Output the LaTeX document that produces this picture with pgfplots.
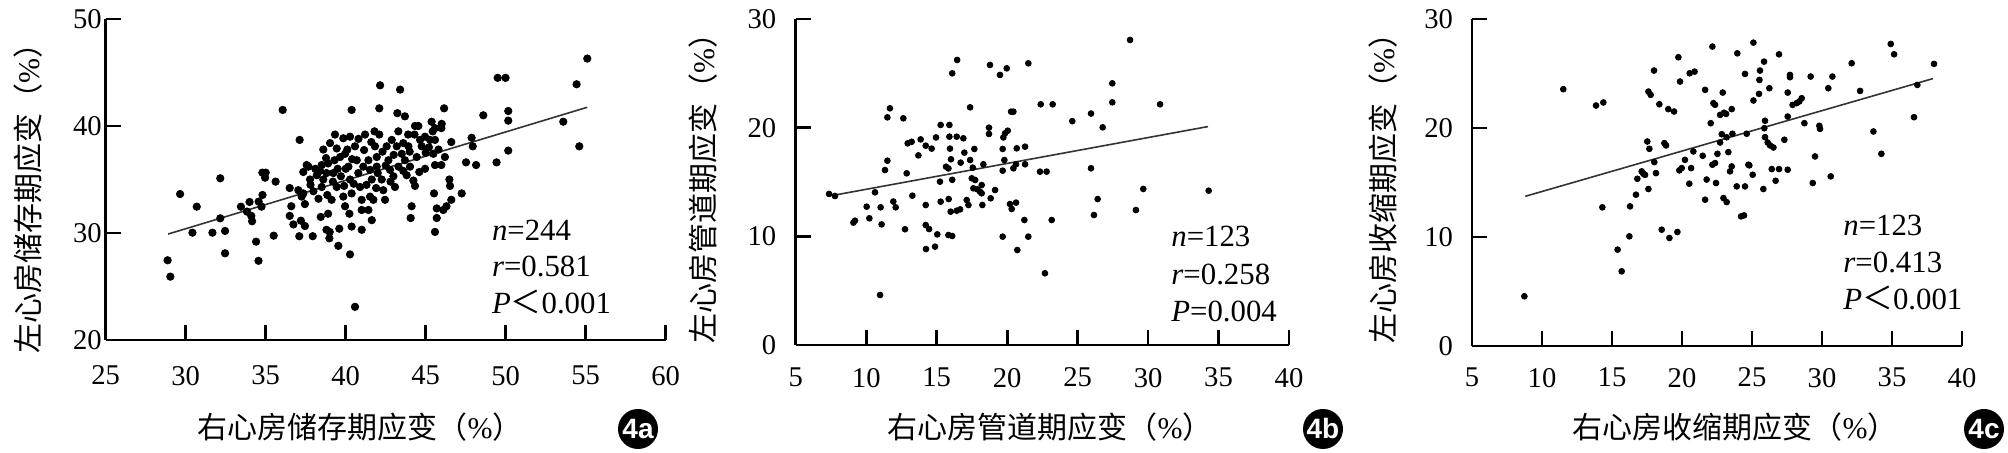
\documentclass[border=0pt]{standalone}
\usepackage{fontspec}
\setmainfont{Liberation Serif}
\newfontfamily\cjk{Noto Sans CJK SC}
\newfontfamily\lsans{Liberation Sans}
\usepackage{pgfplots}
\pgfplotsset{compat=1.18}
\pgfplotsset{myaxis/.style={
  scale only axis, axis lines*=left,
  axis line style={line width=1.35pt, black},
  every tick/.style={black, line width=1.35pt},
  tick align=inside, major tick length=7.5pt,
  ticklabel style={font=\fontsize{14.3}{14.3}\selectfont},
  /pgf/number format/assume math mode=true,
  clip=false, anchor=south west},
  dots/.style={only marks, mark=*, mark size=1.45pt, mark options={black, fill=black}},
  fit/.style={no marks, black!80, line width=0.8pt}
}
\begin{document}
\begin{tikzpicture}
\path[use as bounding box] (0,0) rectangle (1004pt,226.5pt);
% ---------- 4a ----------
\begin{axis}[myaxis, at={(52.85pt,56.5pt)}, width=280pt, height=160.5pt,
  xmin=25, xmax=60, ymin=20, ymax=50, xtick={25,30,...,60}, ytick={20,30,40,50},
  xticklabel style={yshift=-9.5pt}, yticklabel style={xshift=1.5pt}]
\addplot[dots, mark size=1.85pt] coordinates {
(28.87,27.45) (29.04,25.92) (29.65,33.64) (30.42,30.03) (30.69,32.46) (31.67,30.03)
(32.16,35.11) (32.16,31.37) (32.46,30.19) (32.46,28.10) (33.45,32.46) (33.99,32.90)
(33.83,32.00) (34.10,31.60) (34.15,31.10) (34.40,29.19) (34.55,27.40) (34.56,32.93)
(34.79,35.64) (35.00,35.64) (34.96,35.17) (34.80,33.55) (34.74,32.46) (35.50,29.75)
(35.62,34.80) (36.06,41.50) (36.50,34.20) (36.60,32.50) (36.50,31.60) (36.73,30.80)
(37.12,38.70) (37.10,29.70) (37.20,31.15) (37.45,30.65) (37.35,35.70) (37.56,36.35)
(37.25,33.40) (37.45,32.70) (37.04,34.00) (37.35,33.70) (37.94,29.70) (37.67,36.20)
(37.77,35.00) (37.98,33.90) (38.19,35.40) (38.50,36.35) (38.50,34.30) (38.60,35.00)
(38.77,37.00) (38.80,35.60) (38.85,33.55) (38.44,31.50) (38.90,31.80) (38.80,30.30)
(39.00,30.10) (38.98,29.50) (39.54,28.80) (39.60,30.40) (39.02,38.40) (39.33,39.20)
(39.44,37.90) (39.65,37.10) (39.23,35.60) (39.44,34.30) (39.12,33.10) (39.85,33.40)
(39.96,32.50) (39.85,38.85) (39.96,37.40) (40.27,39.00) (40.37,41.50) (40.17,36.20)
(40.27,35.00) (40.37,33.70) (40.23,31.80) (40.37,30.60) (40.27,28.00) (40.58,23.10)
(40.58,38.10) (40.69,36.80) (40.79,35.60) (40.90,34.30) (41.00,33.10) (41.00,32.15)
(41.00,30.30) (41.21,39.20) (41.15,37.75) (41.42,36.80) (41.52,35.90) (41.63,35.00)
(41.52,33.40) (41.42,32.15) (41.63,31.20) (41.73,33.10) (41.83,38.10) (41.94,37.10)
(41.94,36.20) (42.15,43.80) (42.10,41.65) (42.10,39.20) (42.25,35.00) (42.35,34.00)
(42.46,33.10) (42.56,38.10) (42.67,36.80) (42.77,35.90) (42.88,38.70) (42.98,35.30)
(43.08,34.30) (43.19,38.10) (43.29,39.50) (43.23,41.20) (43.40,43.40) (43.50,37.40)
(43.60,38.40) (43.70,40.90) (43.70,36.80) (43.81,35.40) (43.92,38.10) (44.02,36.20)
(44.12,32.50) (44.06,31.40) (44.23,34.90) (44.33,34.40) (44.33,40.00) (44.54,40.00)
(44.44,37.10) (44.65,38.70) (44.75,38.10) (44.96,36.00) (44.96,39.00) (45.27,38.70)
(45.37,40.40) (45.44,39.50) (45.58,39.80) (45.58,38.70) (45.48,37.40) (45.58,36.35)
(45.52,33.70) (45.69,32.30) (45.69,31.40) (45.58,30.10) (45.98,39.80) (45.98,36.35)
(46.15,41.65) (46.10,32.15) (46.30,32.50) (46.48,35.00) (46.52,34.40) (46.60,33.10)
(46.60,38.50) (46.20,37.10) (47.25,33.70) (47.52,36.60) (47.87,38.90) (47.94,38.10)
(48.15,36.35) (48.60,41.00) (49.43,36.60) (49.50,44.50) (49.99,44.50) (50.16,41.40)
(50.16,40.50) (50.16,37.70) (53.60,40.40) (54.43,43.90) (54.60,38.10) (55.10,46.30)
(37.80,34.50) (38.10,36.00) (38.30,33.20) (38.60,37.80) (38.90,36.50) (39.20,34.80)
(39.50,36.00) (39.70,35.30) (39.90,34.40) (40.10,37.80) (40.40,36.90) (40.50,34.60)
(40.80,38.80) (41.10,36.20) (41.30,34.50) (41.60,38.50) (41.90,34.20) (42.00,35.60)
(42.30,37.60) (42.50,36.30) (42.80,34.80) (43.00,37.30) (43.30,36.20) (43.60,35.80)
(44.00,37.60) (44.30,39.20) (44.60,35.70) (45.00,37.50) (45.20,38.00) (45.80,37.80)
(46.00,40.20) (40.00,36.00) (39.30,36.80) (38.40,35.80) (41.80,39.50) (43.90,39.20)
};
\addplot[fit] coordinates {(28.9,29.9) (55.1,41.75)};
\end{axis}
% ---------- 4b ----------
\begin{axis}[myaxis, at={(397.9pt,54pt)}, width=246.6pt, height=163pt,
  xmin=5, xmax=40, ymin=0, ymax=30, xtick={5,10,...,40}, ytick={0,10,20,30},
  xticklabel style={yshift=-8pt}, yticklabel style={xshift=-6.3pt}]
\addplot[dots] coordinates {
(7.36,13.90) (7.78,13.71) (9.09,11.26) (9.20,11.44) (10.03,12.73) (10.22,11.66)
(10.62,14.05) (11.02,12.67) (11.09,11.10) (10.98,4.60) (11.33,16.10) (11.50,16.96)
(11.50,20.95) (11.68,21.78) (11.92,13.20) (12.09,12.67) (12.63,20.86) (12.75,10.65)
(12.87,15.80) (12.94,18.56) (13.22,18.70) (13.27,13.74) (13.70,17.45) (13.86,18.92)
(14.22,18.34) (14.22,12.88) (14.22,11.04) (14.46,10.67) (14.24,8.83) (14.64,18.07)
(14.88,9.05) (14.95,19.10) (15.04,10.18) (15.23,15.03) (15.28,20.25) (15.28,13.19)
(15.66,16.41) (15.83,16.25) (15.85,13.43) (15.90,20.25) (15.90,19.17) (15.94,18.07)
(16.01,17.09) (15.83,10.12) (16.10,10.03) (16.10,25.00) (16.45,26.23) (16.10,15.20)
(15.99,12.27) (16.42,12.36) (16.66,12.48) (16.42,19.17) (16.89,19.02) (16.70,16.78)
(16.96,17.70) (17.13,13.34) (17.25,12.88) (17.37,21.87) (17.37,17.02) (17.49,15.34)
(17.56,16.32) (17.67,18.04) (17.73,15.18) (17.60,14.42) (17.88,14.33) (18.07,14.11)
(18.19,14.72) (18.19,13.96) (18.31,16.63) (18.24,12.88) (18.78,25.77) (18.71,20.00)
(18.71,19.42) (18.83,13.50) (19.14,14.26) (19.49,24.85) (19.68,18.04) (19.73,19.10)
(19.80,17.02) (19.68,16.04) (19.85,19.48) (19.97,25.46) (20.04,19.72) (20.28,21.47)
(20.44,21.47) (20.20,12.97) (20.32,12.52) (20.63,13.10) (20.44,16.26) (20.63,16.63)
(20.68,18.10) (20.72,8.74) (19.68,9.97) (21.22,11.50) (21.27,18.25) (21.27,16.63)
(21.50,9.97) (21.50,25.92) (22.38,22.15) (23.23,22.15) (22.33,15.95) (22.80,15.95)
(23.16,11.50) (22.68,6.60) (24.62,20.60) (25.95,21.30) (25.95,16.26) (26.78,20.03)
(26.42,13.43) (26.16,11.96) (27.46,24.08) (27.46,22.33) (28.72,28.07) (29.14,12.42)
(29.66,14.36) (30.85,22.15) (34.30,14.20)
};
\addplot[fit] coordinates {(7.78,13.8) (34.25,20.1)};
\end{axis}
% ---------- 4c ----------
\begin{axis}[myaxis, at={(736pt,53.5pt)}, width=245pt, height=163.5pt,
  xmin=5, xmax=40, ymin=0, ymax=30, xtick={5,10,...,40}, ytick={0,10,20,30},
  xticklabel style={yshift=-7.5pt}, yticklabel style={xshift=-6pt}]
\addplot[dots] coordinates {
(8.74,4.56) (11.52,23.56) (13.86,22.06) (14.38,22.34) (14.31,12.72) (15.40,8.84)
(15.69,6.85) (16.24,10.06) (16.29,12.81) (16.71,13.88) (16.81,15.34) (17.12,16.02)
(17.24,15.80) (17.36,15.70) (17.60,14.40) (17.52,18.76) (17.67,18.09) (17.60,23.34)
(17.76,23.04) (18.00,25.27) (18.02,16.87) (18.14,15.86) (18.38,22.18) (18.55,10.67)
(18.74,18.61) (18.86,18.40) (19.02,21.73) (19.10,9.91) (19.43,21.51) (19.67,10.46)
(19.74,26.49) (19.86,24.26) (19.81,16.11) (19.98,16.32) (20.21,17.08) (20.52,14.89)
(20.55,25.02) (20.90,25.17) (20.81,17.85) (20.65,16.32) (21.65,23.50) (21.48,17.45)
(21.76,15.27) (21.65,13.42) (22.05,20.44) (22.17,27.47) (22.24,22.28) (22.36,22.13)
(22.17,16.63) (22.36,16.78) (22.43,14.95) (22.53,17.63) (22.72,21.20) (22.91,23.25)
(23.00,21.40) (23.15,21.29) (23.19,19.15) (22.84,19.43) (22.72,18.67) (22.96,13.57)
(23.19,13.20) (23.31,17.79) (23.43,16.02) (23.55,21.73) (23.55,16.47) (23.60,19.47)
(23.91,14.64) (23.95,26.85) (24.22,11.89) (24.43,11.98) (24.50,24.96) (24.50,14.64)
(24.74,16.63) (24.81,16.57) (24.62,19.47) (25.05,15.71) (25.10,27.83) (25.10,22.52)
(25.53,24.41) (25.57,25.27) (25.50,23.13) (25.81,14.40) (25.86,26.09) (25.93,20.66)
(25.88,19.98) (25.93,19.16) (26.12,18.67) (26.29,18.40) (26.53,18.21) (26.24,23.65)
(26.41,16.23) (26.69,15.16) (26.93,26.76) (26.93,16.23) (27.31,18.92) (27.55,23.25)
(27.55,21.05) (27.55,16.17) (27.71,24.87) (27.71,24.66) (27.90,22.12) (28.19,22.28)
(28.38,22.43) (28.55,22.73) (28.74,20.44) (29.19,24.72) (29.34,14.95) (29.50,17.39)
(29.81,20.20) (29.86,19.92) (30.45,23.65) (30.74,24.72) (30.62,15.56) (32.12,25.94)
(32.72,23.40) (33.67,19.68) (34.24,17.63) (34.91,27.71) (35.15,26.76) (36.57,20.99)
(36.81,23.95) (38.00,25.88)
};
\addplot[fit] coordinates {(8.8,13.73) (37.92,24.53)};
\end{axis}
% ---------- texts ----------
\begin{scope}[every node/.style={inner sep=0pt, font=\fontsize{15.4}{15.4}\selectfont}]
\node[anchor=base west] at (245.8pt,106.3pt) {\textit{n}=244};
\node[anchor=base west] at (245.8pt,88.1pt) {\textit{r}=0.581};
\node[anchor=base west] at (245.8pt,69.9pt) {\textit{P}{\cjk ＜}0.001};
\node[anchor=base west] at (585.5pt,103.4pt) {\textit{n}=123};
\node[anchor=base west] at (585.5pt,84.4pt) {\textit{r}=0.258};
\node[anchor=base west] at (585.5pt,65.9pt) {\textit{P}=0.004};
\node[anchor=base west] at (921.5pt,108.5pt) {\textit{n}=123};
\node[anchor=base west] at (921.5pt,90.2pt) {\textit{r}=0.413};
\node[anchor=base west] at (921.5pt,71.9pt) {\textit{P}{\cjk ＜}0.001};
\end{scope}
\begin{scope}[every node/.style={inner sep=0pt, font=\fontsize{15}{15}\selectfont}]
\node at (180pt,13pt) {{\cjk 右心房储存期应变（}\%{\cjk ）}};
\node at (525pt,13pt) {{\cjk 右心房管道期应变（}\%{\cjk ）}};
\node at (867.5pt,13pt) {{\cjk 右心房收缩期应变（}\%{\cjk ）}};
\node[rotate=90] at (14pt,131pt) {{\cjk 左心房储存期应变（}\%{\cjk ）}};
\node[rotate=90] at (351.5pt,136pt) {{\cjk 左心房管道期应变（}\%{\cjk ）}};
\node[rotate=90] at (691.5pt,136pt) {{\cjk 左心房收缩期应变（}\%{\cjk ）}};
\end{scope}
\foreach \bx/\bt in {319pt/4a, 661.5pt/4b, 992pt/4c}{
  \fill[black] (\bx,12pt) circle (10pt);
  \node[white, inner sep=0pt, font=\lsans\bfseries\fontsize{14}{14}\selectfont] at (\bx,12pt) {\bt};
}
\end{tikzpicture}
\end{document}
